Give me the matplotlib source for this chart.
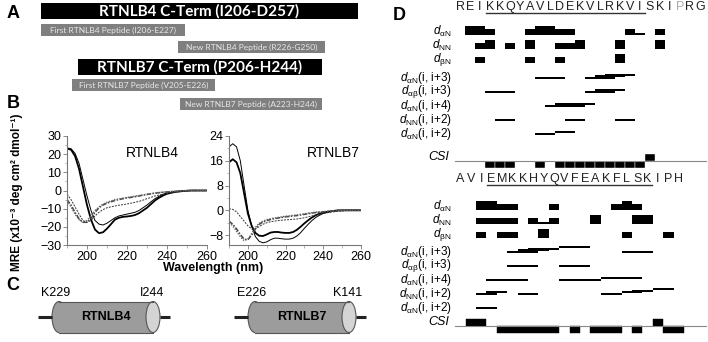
import matplotlib.pyplot as plt
from matplotlib.patches import Rectangle, Ellipse

plt.rcParams['font.family'] = ['Liberation Sans', 'DejaVu Sans']
plt.rcParams['mathtext.fontset'] = 'custom'
plt.rcParams['mathtext.rm'] = 'Liberation Sans'
plt.rcParams['mathtext.it'] = 'Liberation Sans:italic'

# ---- panel A : constructs (extent in figure pixels) ----
a_labels = ["RTNLB4 C-Term (I206-D257)", "First RTNLB4 Peptide (I206-E227)",
            "New RTNLB4 Peptide (R226-G250)", "RTNLB7 C-Term (P206-H244)",
            "First RTNLB7 Peptide (V205-E226)", "New RTNLB7 Peptide (A223-H244)"]
a_full = [True, False, False, True, False, False]
a_start = [41, 41, 178, 78, 72, 180]
a_end = [358, 185, 325, 322, 215, 322]

# ---- panel B : CD spectra ----
wl = [190, 192, 194, 196, 198, 200, 202, 204, 206, 208, 210, 212, 214, 216, 218,
      220, 222, 224, 226, 228, 230, 232, 234, 236, 238, 240, 244, 248, 252, 260]
b4_thick = [23, 22.5, 19, 12, 2, -8, -16, -21.5, -23.5, -23, -21, -18.5, -16, -15, -14.5,
            -14.3, -14, -13.5, -12.5, -11, -9.5, -7.5, -5.5, -4, -2.8, -1.8, -0.8, -0.3, 0, 0]
b4_thin = [23.5, 23, 20.5, 15, 6, -3, -11, -16.5, -18.5, -19, -18, -16.5, -15, -14, -13.5,
           -13, -12.5, -12, -11, -9.5, -8, -6.2, -4.5, -3.2, -2.2, -1.4, -0.6, -0.2, 0, 0]
b4_dash = [-2, -5, -9, -13, -16.5, -17.5, -16.5, -14, -12, -10.5, -9.5, -9, -8.5, -8.1, -7.8,
           -7.4, -7, -6.5, -6, -5.3, -4.5, -3.8, -3, -2.5, -2, -1.6, -0.9, -0.4, -0.1, 0]
b4_dashdot = [-5, -8, -12, -15.5, -17.5, -17.5, -15.5, -12, -9.5, -8, -7, -6.2, -5.5, -5, -4.5,
              -4.1, -3.8, -3.4, -3, -2.6, -2.2, -1.8, -1.5, -1.2, -1, -0.8, -0.5, -0.2, 0, 0]
b4_dot = [-5.5, -9, -13, -16, -17.5, -16.5, -14, -11, -9, -7.5, -6.5, -5.7, -5, -4.6, -4.2,
          -3.8, -3.5, -3.1, -2.8, -2.4, -2, -1.7, -1.4, -1.1, -0.9, -0.7, -0.4, -0.1, 0, 0]
b7_thin = [20.5, 21.5, 20.5, 16, 8, 0, -5, -8.5, -10, -10.5, -10.2, -9.5, -9, -9, -9.2,
           -9.3, -9.3, -9, -8.3, -7.2, -5.8, -4.5, -3.3, -2.3, -1.6, -1, -0.4, -0.1, 0, 0]
b7_thick = [15.5, 16.5, 15.5, 12, 5.5, -1, -5, -7.3, -8.2, -8.3, -7.8, -7.2, -7, -7, -7.2,
            -7.3, -7.3, -7, -6.3, -5.3, -4.2, -3.2, -2.3, -1.6, -1.1, -0.7, -0.3, 0, 0, 0]
b7_dash = [0.5, 0.3, -0.5, -2, -3.5, -5, -6, -6, -5.3, -4.5, -4, -3.7, -3.5, -3.3, -3.2,
           -3.1, -3, -2.9, -2.8, -2.6, -2.4, -2.1, -1.8, -1.5, -1.2, -1, -0.6, -0.3, -0.1, 0]
b7_dashdot = [-3.5, -4.5, -6, -7.8, -9.3, -9.5, -8, -6, -4.5, -3.8, -3.3, -3, -2.7, -2.5, -2.3,
              -2.1, -2, -1.8, -1.7, -1.5, -1.3, -1.1, -0.9, -0.7, -0.6, -0.5, -0.3, -0.1, 0, 0]
b7_dot = [-4, -5, -6.8, -8.5, -9.8, -9.3, -7.5, -5.5, -4.2, -3.5, -3, -2.7, -2.5, -2.3, -2.1,
          -1.9, -1.8, -1.6, -1.5, -1.3, -1.1, -0.9, -0.8, -0.6, -0.5, -0.4, -0.2, 0, 0, 0]

# ---- panel C : helices ----
c_names = ["RTNLB4", "RTNLB7"]
c_first = ["K229", "E226"]
c_last = ["I244", "K141"]

# ---- panel D : NOE summary (residue index, strength 1-3) ----
row_names = [r"$d_{\mathrm{\alpha N}}$", r"$d_{\mathrm{NN}}$", r"$d_{\mathrm{\beta N}}$",
             r"$d_{\mathrm{\alpha N}}$(i, i+3)", r"$d_{\mathrm{\alpha\beta}}$(i, i+3)",
             r"$d_{\mathrm{\alpha N}}$(i, i+4)", r"$d_{\mathrm{NN}}$(i, i+2)",
             r"$d_{\mathrm{\alpha N}}$(i, i+2)"]

seq4 = "REIKKQYAVLDEKVLRKVISKIPRG"
noe4 = [
    [(1, 2, 3), (3, 3, 2), (7, 7, 2), (8, 9, 3), (10, 11, 2), (17, 17, 2), (18, 18, 1), (20, 20, 2)],
    [(2, 2, 2), (3, 3, 3), (5, 5, 2), (7, 7, 3), (10, 11, 2), (12, 12, 3), (16, 16, 3), (20, 20, 3)],
    [(2, 2, 2), (7, 7, 2), (10, 10, 2), (16, 16, 3)],
    [(8, 10, 1), (13, 15, 1), (14, 16, 1), (15, 17, 1)],
    [(3, 5, 1), (13, 15, 1), (14, 16, 1)],
    [(9, 12, 1), (10, 13, 1)],
    [(4, 5, 1), (11, 12, 1), (16, 17, 1)],
    [(8, 9, 1), (10, 11, 1)],
]
csi4 = [0, 0, 0, -1, -1, -1, 0, 0, -1, 0, -1, -1, -1, -1, -1, -1, -1, -1, -1, 1, 0, 0, 0, 0, 0]

seq7 = "AVIEMKKHYQVFEAKFLSKIPH"
noe7 = [
    [(2, 3, 3), (4, 5, 2), (9, 9, 2), (15, 15, 2), (16, 16, 3), (17, 17, 2)],
    [(2, 5, 2), (7, 7, 2), (8, 8, 1), (9, 9, 2), (13, 13, 3), (17, 18, 3)],
    [(2, 2, 2), (4, 5, 2), (8, 8, 3), (16, 16, 2), (20, 20, 2)],
    [(5, 7, 1), (6, 8, 1), (7, 9, 1), (10, 12, 1), (16, 18, 1)],
    [(5, 7, 1), (10, 12, 1)],
    [(3, 6, 1), (10, 13, 1), (14, 17, 1)],
    [(2, 3, 1), (3, 4, 1), (6, 7, 1), (14, 15, 1), (16, 17, 1), (17, 18, 1), (19, 20, 1)],
    [(2, 3, 1)],
]
csi7 = [0, 1, 1, 0, -1, -1, -1, -1, -1, -1, 0, -1, 0, -1, -1, -1, 0, -1, 0, 1, -1, -1]

W, H = 708, 342
fig = plt.figure(figsize=(W / 100, H / 100), dpi=100)
ax = fig.add_axes([0, 0, 1, 1])
ax.set_xlim(0, W)
ax.set_ylim(H, 0)
ax.axis('off')

# panel letters
for letter, x, y in [("A", 13, 13), ("B", 13, 104), ("C", 13, 286), ("D", 399, 15)]:
    ax.text(x, y, letter, fontsize=13, fontweight='bold', ha='center', va='center')

# ---- A ----
row_top = [3, 24, 41, 59, 79, 98]
for lab, full, x0, x1, y0 in zip(a_labels, a_full, a_start, a_end, row_top):
    h = 16 if full else 12
    ax.add_patch(Rectangle((x0, y0), x1 - x0, h, color='black' if full else '#7f7f7f', lw=0))
    ax.text((x0 + x1) / 2, y0 + h / 2, lab, ha='center', va='center',
            color='white' if full else '#e8e8e8', family='Lato',
            fontsize=11 if full else 6, fontweight='bold' if full else 'normal')

# ---- B ----
def cd_axes(rect, ylim, yticks, ymin_step, title, tx, curves):
    a = fig.add_axes(rect)
    a.plot(wl, curves[0], color='black', lw=1.3)
    a.plot(wl, curves[1], color='black', lw=0.7)
    a.plot(wl, curves[2], color='#333333', lw=0.7, ls=(0, (2, 1.2)))
    a.plot(wl, curves[3], color='#444444', lw=1.1, ls=(0, (3, 1, 1, 1)))
    a.plot(wl, curves[4], color='#666666', lw=1.0, ls=(0, (1, 1)))
    a.set_xlim(190, 260)
    a.set_ylim(*ylim)
    a.set_xticks([200, 220, 240, 260])
    a.set_xticks(range(190, 261, 10), minor=True)
    a.set_yticks(yticks)
    a.set_yticks([v for v in range(int(yticks[0]) - 20, int(yticks[-1]) + 1, ymin_step)
                  if ylim[0] <= v <= ylim[1]], minor=True)
    for s in ['top', 'right']:
        a.spines[s].set_visible(False)
    for s in ['left', 'bottom']:
        a.spines[s].set_color('#777777')
        a.spines[s].set_linewidth(0.8)
    a.tick_params(labelsize=9, length=3, width=0.6, color='#777777', pad=1)
    a.tick_params(which='minor', length=1.8, width=0.5, color='#999999')
    a.text(tx, 0.84, title, transform=a.transAxes, ha='center', va='center', fontsize=10)
    a.patch.set_alpha(0)

cd_axes([67 / W, 1 - 245 / H, 140 / W, 109 / H], (-30, 30), [-30, -20, -10, 0, 10, 20, 30], 5,
        "RTNLB4", 0.61, [b4_thick, b4_thin, b4_dash, b4_dashdot, b4_dot])
cd_axes([229 / W, 1 - 245 / H, 132 / W, 109 / H], (-11.2, 24), [-8, 0, 8, 16, 24], 4,
        "RTNLB7", 0.79, [b7_thick, b7_thin, b7_dash, b7_dashdot, b7_dot])

ax.text(17, 192, "MRE (x10⁻³ deg cm² dmol⁻¹)", rotation=90, ha='center', va='center',
        fontsize=8.5, fontweight='bold')
ax.text(213, 268, "Wavelength (nm)", ha='center', va='center', fontsize=9, fontweight='bold')

# ---- C ----
for i, (name, f, l) in enumerate(zip(c_names, c_first, c_last)):
    x0 = 52 + 196 * i
    x1 = x0 + 108
    yc, h, e = 317, 31, 7
    ax.plot([x0 - 14, x0], [yc, yc], color='#222222', lw=2.2, solid_capstyle='butt')
    ax.plot([x1, x1 + 10], [yc, yc], color='#222222', lw=2.2, solid_capstyle='butt')
    ax.add_patch(Ellipse((x0 + e, yc), 2 * e, h, fc='#9c9c9c', ec='#555555', lw=0.8))
    ax.add_patch(Rectangle((x0 + e, yc - h / 2), x1 - x0 - 2 * e, h, fc='#9c9c9c', lw=0))
    ax.plot([x0 + e, x1 - e], [yc - h / 2, yc - h / 2], color='#555555', lw=0.8)
    ax.plot([x0 + e, x1 - e], [yc + h / 2, yc + h / 2], color='#555555', lw=0.8)
    ax.add_patch(Ellipse((x1 - e, yc), 2 * e, h, fc='#d4d4d4', ec='#555555', lw=0.8))
    ax.text((x0 + x1) / 2, yc, name, ha='center', va='center', fontsize=9, fontweight='bold')
    ax.text(x0 + 4, 293, f, ha='center', va='center', fontsize=9)
    ax.text(x1 - 8, 293, l, ha='center', va='center', fontsize=9)

# ---- D ----
heights = {3: 9, 2: 6, 1: 2}


def noe_panel(y_top, y_bot, k0_px, step, seq, noe, csi, rows_y, csi_y, seq_y, gray=None, sep=False):
    a = fig.add_axes([440 / W, 1 - y_bot / H, 268 / W, (y_bot - y_top) / H])
    a.set_xlim((440 - k0_px) / step, (708 - k0_px) / step)
    a.set_ylim(y_bot, y_top)
    a.axis('off')
    for k, ch in enumerate(seq):
        a.text(k, seq_y, ch, ha='center', va='center', fontsize=9,
               color='#aaaaaa' if k == gray else '#222222')
    a.plot([2.6, 18.45], [seq_y + 6, seq_y + 6], color='#333333', lw=1.0)
    for r, (bars, y) in enumerate(zip(noe, rows_y)):
        level, prev_end = 0, None
        for s, e, st in bars:
            if r < 3:
                h = heights[st]
                a.add_patch(Rectangle((s - 0.5, y - h), e - s + 1, h, fc='black', lw=0))
            else:
                level = level + 1 if prev_end is not None and s - 0.5 <= prev_end else 0
                prev_end = e + 0.5
                yy = y - 1.7 * level
                a.add_patch(Rectangle((s - 0.5, yy - 1), e - s + 1, 2, fc='black', lw=0))
        ax.text(452, y - 3.5 if r < 3 else y, row_names[r], ha='right', va='center', fontsize=8.5)
    a.axhline(csi_y, xmin=15 / 268, xmax=266 / 268, color='#888888', lw=0.8)
    for k, v in enumerate(csi):
        if v:
            a.add_patch(Rectangle((k - 0.5, csi_y), 1, -7 * v, fc='black',
                                  ec='white' if sep else 'black', lw=0.3))
    ax.text(449, csi_y - 4, "CSI", ha='right', va='center', fontsize=9, style='italic')


noe_panel(0, 170, 460, 10, seq4, noe4, csi4, [35, 49, 63, 78, 92, 106, 120, 134], 161, 7,
          gray=22, sep=True)
noe_panel(170, 342, 460.4, 10.4, seq7, noe7, csi7, [210, 224, 238, 252, 266, 280, 294, 308],
          326, 179)

fig.savefig("out.png", dpi=100)
